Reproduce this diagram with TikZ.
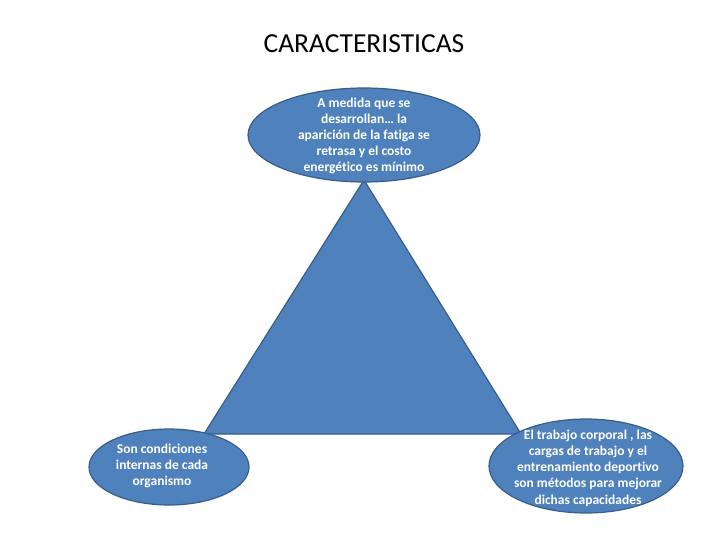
\documentclass[tikz,border=0pt]{standalone}
\usepackage{fontspec}
\setmainfont{Carlito}[Ligatures=NoCommon]
\usetikzlibrary{shapes.geometric}
\definecolor{fillblue}{HTML}{4F81BD}
\definecolor{edgeblue}{HTML}{385D8A}
\begin{document}
\begin{tikzpicture}[x=1pt,y=-1pt,
  shapefill/.style={fill=fillblue,draw=edgeblue,line width=1.2pt},
  bubble/.style={shapefill,ellipse,inner sep=0pt},
  btext/.style={text=white,font=\bfseries\fontsize{13.5}{16.2}\selectfont,align=center}]
\useasboundingbox (0,0) rectangle (728,546);
\node[font=\fontsize{27.5}{32}\selectfont] (title) at (364,44) {CARACTERISTICAS};
\coordinate (ta) at (364,180);
\coordinate (tl) at (204,434);
\coordinate (tr) at (521,434);
\draw[shapefill,line join=miter] (ta) -- (tl) -- (tr) -- cycle;
\node[bubble,minimum width=232,minimum height=94] (top) at (364,135) {};
\node[btext] (toptext) at (364,136) {A medida que se\\desarrollan… la\\aparición de la fatiga se\\retrasa y el costo\\energético es mínimo};
\node[bubble,minimum width=160,minimum height=76] (left) at (169,467) {};
\node[btext] (lefttext) at (162,466) {Son condiciones\\internas de cada\\organismo};
\node[bubble,minimum width=194,minimum height=94] (right) at (586,466) {};
\node[btext] (righttext) at (588,468) {El trabajo corporal , las\\cargas de trabajo y el\\entrenamiento deportivo\\son métodos para mejorar\\dichas capacidades};
\end{tikzpicture}
\end{document}
